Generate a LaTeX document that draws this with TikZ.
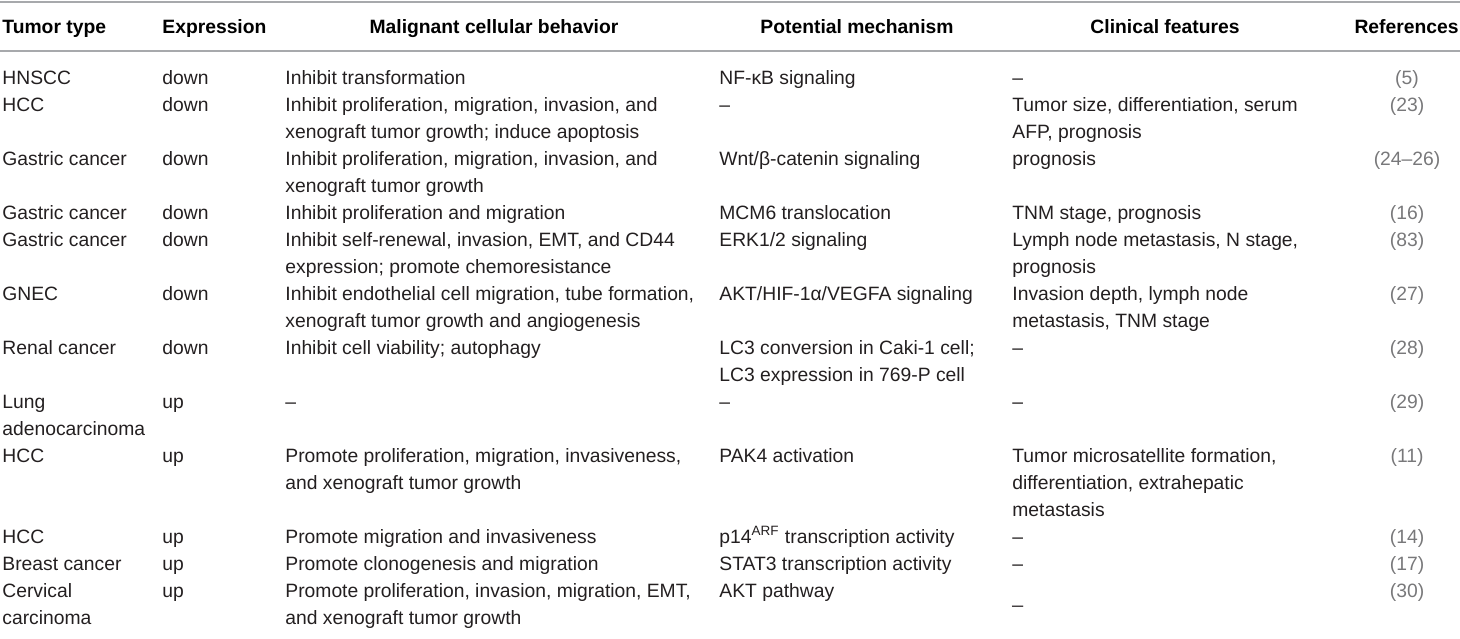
\documentclass[tikz,border=0pt]{standalone}
\usepackage{fontspec}
\setmainfont{Liberation Sans}
\definecolor{txtdark}{RGB}{35,31,32}
\definecolor{refgray}{RGB}{120,120,122}
\definecolor{rulegray}{RGB}{167,169,172}
\newcommand{\tablefont}{\fontsize{9.65}{13.5}\selectfont}
% lines of one cell, first baseline on the node's base
\newcommand{\cellstack}[1]{\begin{tabular}[t]{@{}l@{}}#1\end{tabular}}

\tikzset{
  cell/.style={anchor=base west, inner sep=0pt, font=\tablefont, text=txtdark},
  refcell/.style={anchor=base, inner sep=0pt, font=\tablefont, text=refgray},
  headcell/.style={anchor=base, inner sep=0pt, font=\tablefont\bfseries, text=black},
  tablerule/.style={draw=rulegray, line width=1pt}
}

% one row of the table: name, baseline, then the six cells
\newcommand{\tablerow}[8]{%
  \node[cell] (#1-t) at (2,#2) {\cellstack{#3}};
  \node[cell] (#1-e) at (162,#2) {\cellstack{#4}};
  \node[cell] (#1-b) at (285,#2) {\cellstack{#5}};
  \node[cell] (#1-m) at (719,#2) {\cellstack{#6}};
  \node[cell] (#1-c) at (1012,#2) {\cellstack{#7}};
  \node[refcell] (#1-r) at (1407,#2) {#8};
}

\begin{document}
\begin{tikzpicture}[x=0.5pt,y=-0.5pt]
  \useasboundingbox (0,0) rectangle (1460,638);

  % rules
  \draw[tablerule] (0,1.5) -- (1460,1.5);
  \draw[tablerule] (0,51) -- (1460,51);

  % header
  \node[headcell, anchor=base west] (h-t) at (2,33) {Tumor type};
  \node[headcell, anchor=base west] (h-e) at (162,33) {Expression};
  \node[headcell] (h-b) at (494,33) {Malignant cellular behavior};
  \node[headcell] (h-m) at (857,33) {Potential mechanism};
  \node[headcell] (h-c) at (1165,33) {Clinical features};
  \node[headcell, anchor=base east] (h-r) at (1459,33) {References};

  % rows
  \tablerow{hnscc}{84}{HNSCC}{down}{Inhibit transformation}{NF-κB signaling}{–}{(5)}
  \tablerow{hcca}{111}{HCC}{down}{Inhibit proliferation, migration, invasion, and\\xenograft tumor growth; induce apoptosis}{–}{Tumor size, differentiation, serum\\AFP, prognosis}{(23)}
  \tablerow{gca}{165}{Gastric cancer}{down}{Inhibit proliferation, migration, invasion, and\\xenograft tumor growth}{Wnt/β-catenin signaling}{prognosis}{(24–26)}
  \tablerow{gcb}{219}{Gastric cancer}{down}{Inhibit proliferation and migration}{MCM6 translocation}{TNM stage, prognosis}{(16)}
  \tablerow{gcc}{246}{Gastric cancer}{down}{Inhibit self-renewal, invasion, EMT, and CD44\\expression; promote chemoresistance}{ERK1/2 signaling}{Lymph node metastasis, N stage,\\prognosis}{(83)}
  \tablerow{gnec}{300}{GNEC}{down}{Inhibit endothelial cell migration, tube formation,\\xenograft tumor growth and angiogenesis}{AKT/HIF-1α/VEGFA signaling}{Invasion depth, lymph node\\metastasis, TNM stage}{(27)}
  \tablerow{renal}{354}{Renal cancer}{down}{Inhibit cell viability; autophagy}{LC3 conversion in Caki-1 cell;\\LC3 expression in 769-P cell}{–}{(28)}
  \tablerow{lung}{408}{Lung\\adenocarcinoma}{up}{–}{–}{–}{(29)}
  \tablerow{hccb}{462}{HCC}{up}{Promote proliferation, migration, invasiveness,\\and xenograft tumor growth}{PAK4 activation}{Tumor microsatellite formation,\\differentiation, extrahepatic\\metastasis}{(11)}
  \tablerow{hccc}{543}{HCC}{up}{Promote migration and invasiveness}{p14\textsuperscript{ARF} transcription activity}{–}{(14)}
  \tablerow{breast}{570}{Breast cancer}{up}{Promote clonogenesis and migration}{STAT3 transcription activity}{–}{(17)}
  \tablerow{cerv}{597}{Cervical\\carcinoma}{up}{Promote proliferation, invasion, migration, EMT,\\and xenograft tumor growth}{AKT pathway}{\raisebox{-3pt}{\_}}{(30)}
\end{tikzpicture}
\end{document}
